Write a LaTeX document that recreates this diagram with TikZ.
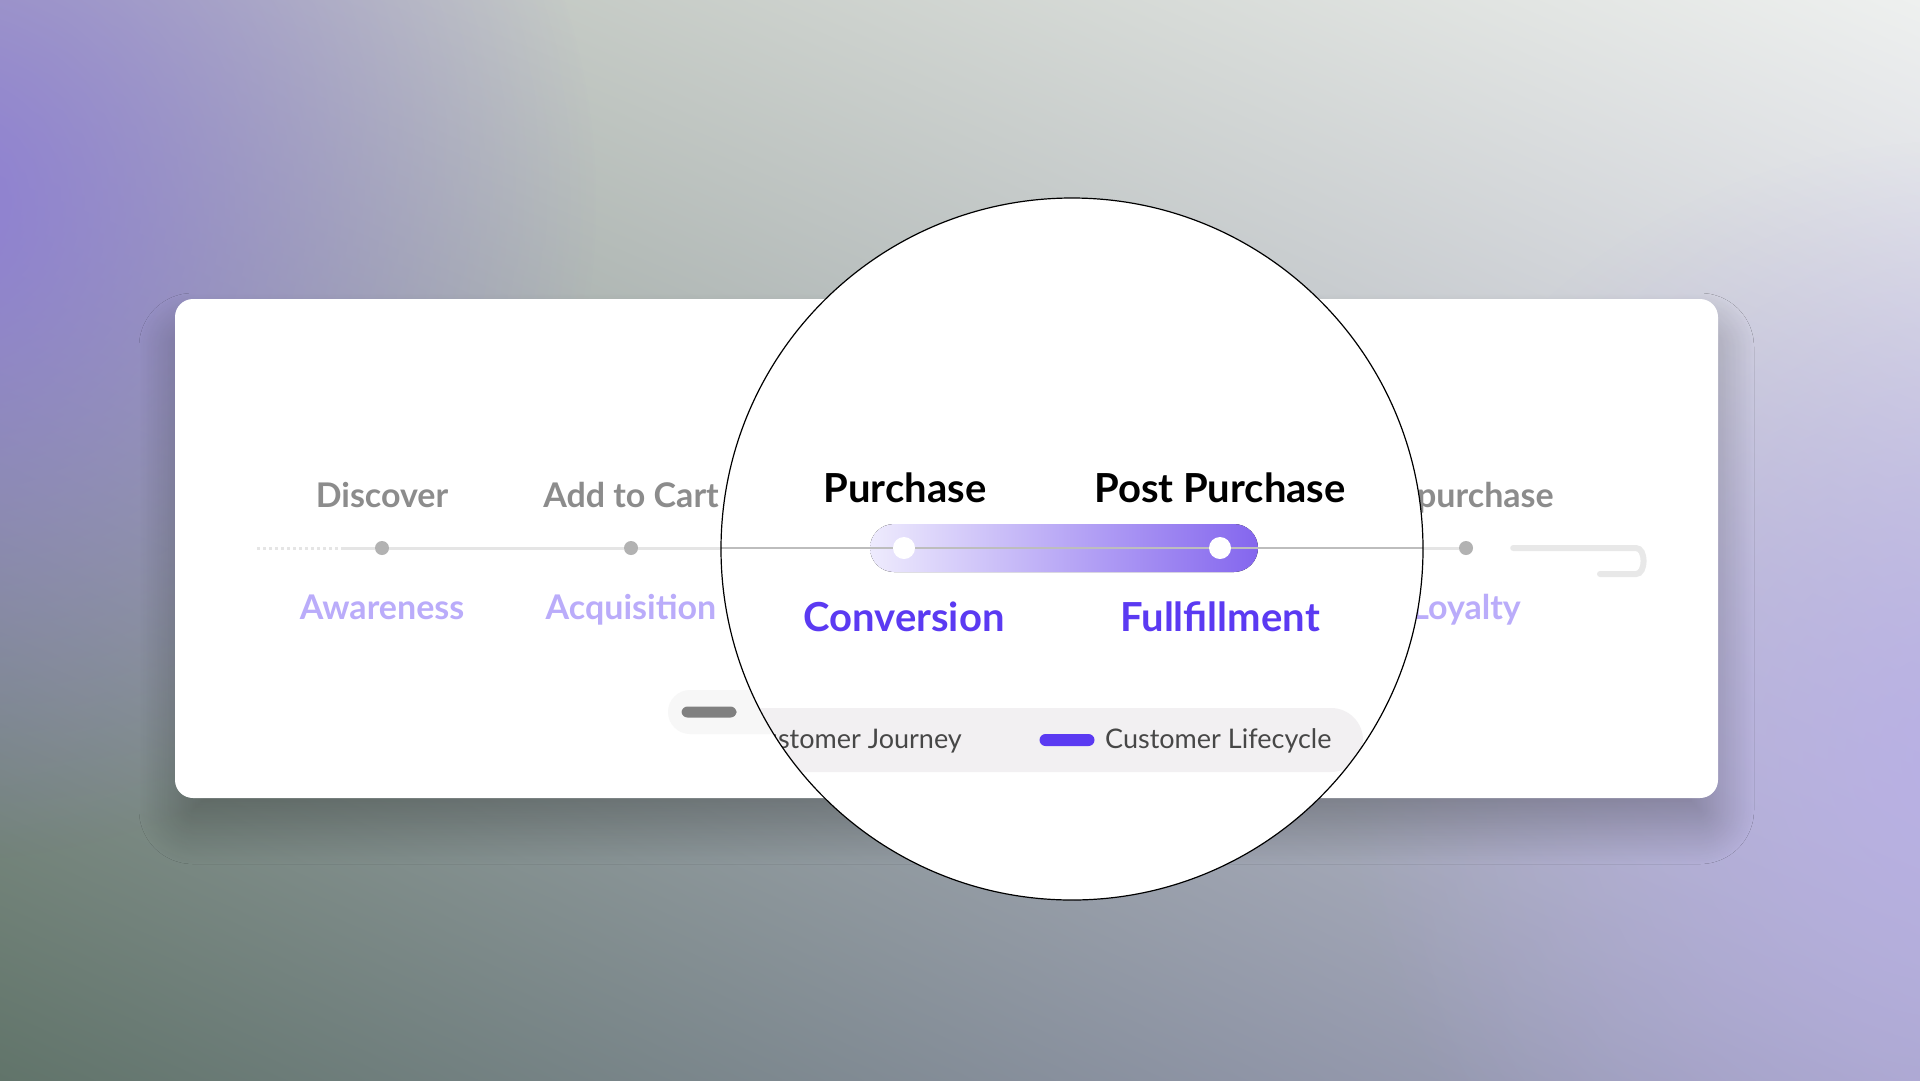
\documentclass[tikz,border=0pt]{standalone}
\usepackage{fontspec}
\setmainfont{Lato}
\usetikzlibrary{fadings,shadings,shadows.blur}

\definecolor{bgsage}{HTML}{B4BBB4}
\definecolor{bgwhite}{HTML}{EEF0EF}
\definecolor{bggreen}{HTML}{61746A}
\definecolor{bgmauve}{HTML}{A7A6C6}
\definecolor{glowviolet}{HTML}{8C7AD9}
\definecolor{glowlilac}{HTML}{B8AEE8}
\definecolor{brandpurple}{HTML}{5B3AF2}
\definecolor{pillstart}{HTML}{EEEBFD}
\definecolor{pillend}{HTML}{8466EE}
\definecolor{trackgray}{HTML}{BDBDBD}
\definecolor{legendbg}{HTML}{F2F0F2}
\definecolor{legendtext}{HTML}{474747}

\tikzfading[name=glow fade, inner color=transparent!0, outer color=transparent!100]

\begin{document}
\begin{tikzpicture}[x=1pt,y=-1pt,
    stage label/.style={font=\fontsize{40}{48}\selectfont\bfseries, text=black, anchor=base, inner sep=0pt},
    phase label/.style={font=\fontsize{40}{48}\selectfont\bfseries, text=brandpurple, anchor=base, inner sep=0pt},
    faded stage/.style={font=\fontsize{34}{40}\selectfont\bfseries, text=black!45, anchor=base, inner sep=0pt},
    faded phase/.style={font=\fontsize{34}{40}\selectfont\bfseries, text=brandpurple!42, anchor=base, inner sep=0pt},
    legend label/.style={font=\fontsize{27}{32}\selectfont, text=legendtext, anchor=base, inner sep=0pt},
    stop dot/.style={circle, fill=white, minimum size=22pt, inner sep=0pt},
    faded dot/.style={circle, fill=black!30, minimum size=14pt, inner sep=0pt},
    legend key/.style={rectangle, rounded corners=6pt, minimum width=55pt, minimum height=12pt, inner sep=0pt}
]
    \def\R{351}
    \useasboundingbox (0,0) rectangle (1920,1080);

    % backdrop
    \shade[upper left=bgsage, upper right=bgwhite, lower left=bggreen, lower right=bgmauve] (0,0) rectangle (1920,1080);
    \fill[glowviolet, path fading=glow fade, opacity=0.9] (-60,200) circle (660);
    \fill[glowlilac, path fading=glow fade, opacity=0.85] (1960,760) circle (620);

    % card
    \fill[white, rounded corners=18pt, blur shadow={shadow xshift=0pt, shadow yshift=-30pt, shadow blur radius=36pt, shadow blur steps=40, shadow opacity=26}] (175,299) rectangle (1718,798);

    % journey behind the lens
    \coordinate (trackstart) at (257,548);
    \coordinate (trackfade) at (343,548);
    \coordinate (trackend) at (1636,548);
    \coordinate (loopend) at (1600,574);
    \node[faded dot] (discoverdot) at (382,548) {};
    \node[faded dot] (cartdot) at (631,548) {};
    \node[faded dot] (repurchasedot) at (1466,548) {};
    \draw[black!10, line width=3pt, dashed] (trackstart) -- (trackfade);
    \draw[black!10, line width=3pt] (trackfade) -- (discoverdot) -- (cartdot) -- (repurchasedot);
    \draw[black!9, line width=6pt, line cap=round] (repurchasedot.east) ++(40,0) -- (trackend) to[out=0,in=0] (1636,574) -- (loopend);

    \node[faded stage] (discover) at (382,507) {Discover};
    \node[faded stage] (addcart) at (631,507) {Add to Cart};
    \node[faded stage] (repurchase) at (1466,507) {Repurchase};
    \node[faded phase] (awareness) at (382,619) {Awareness};
    \node[faded phase] (acquisition) at (631,619) {Acquisition};
    \node[faded phase] (loyalty) at (1466,619) {Loyalty};

    \fill[black!3, rounded corners=22pt] (668,690) rectangle (1010,734);
    \node[legend key, fill=black!50, minimum height=11pt] (journeykeysmall) at (709,712) {};

    % magnifier
    \begin{scope}
        \clip (1072,549) circle (\R);
        \fill[white] (1072,549) circle (\R);
        \fill[left color=pillstart, right color=pillend, rounded corners=24pt] (870,524) rectangle (1258,572);
        \coordinate (lensleft) at (700,548);
        \coordinate (lensright) at (1440,548);
        \draw[trackgray, line width=2pt] (lensleft) -- (lensright);
        \node[stop dot] (conversiondot) at (904,548) {};
        \node[stop dot] (fulfillmentdot) at (1220,548) {};

        \node[stage label] (purchase) at (905,502) {Purchase};
        \node[stage label] (postpurchase) at (1220,502) {Post Purchase};
        \node[phase label] (conversion) at (904,631) {Conversion};
        \node[phase label] (fulfillment) at (1220,631) {Fullfillment};

        \fill[legendbg, rounded corners=32pt] (600,708) rectangle (1363,772);
        \node[legend label, anchor=base east] (journey) at (962,748) {Customer Journey};
        \node[legend key, fill=brandpurple] (lifecyclekey) at (1067,740) {};
        \node[legend label, anchor=base west] (lifecycle) at (1105,748) {Customer Lifecycle};
    \end{scope}
    \draw[black, line width=1.2pt] (1072,549) circle (\R);
\end{tikzpicture}
\end{document}
